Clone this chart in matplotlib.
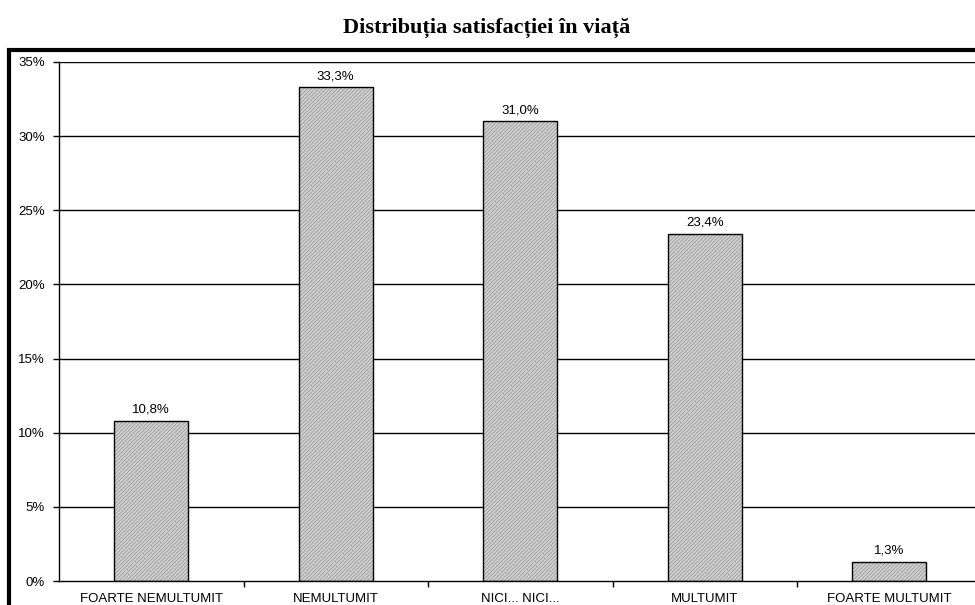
import matplotlib.pyplot as plt
from matplotlib.patches import Rectangle

categories = ["FOARTE NEMULTUMIT", "NEMULTUMIT", "NICI... NICI...", "MULTUMIT", "FOARTE MULTUMIT"]
values = [10.8, 33.3, 31.0, 23.4, 1.3]
y_ticks = [0, 5, 10, 15, 20, 25, 30, 35]

plt.rcParams["font.family"] = ["Liberation Sans", "DejaVu Sans"]
plt.rcParams["hatch.linewidth"] = 0.6

fig = plt.figure(figsize=(9.75, 6.05), dpi=100)
ax = fig.add_axes([59 / 975, 24 / 605, 922.5 / 975, 519 / 605])

# thick outer frame, runs off the right and bottom edges
fig.patches.append(Rectangle((9 / 975, -0.05), 1.2, 555 / 605 + 0.05,
                             transform=fig.transFigure, fill=False,
                             edgecolor="black", linewidth=3, clip_on=False))

x = list(range(len(categories)))
for v in y_ticks[1:]:
    ax.axhline(v, color="black", linewidth=1, zorder=1)

# hatched fill then a black outline on top
ax.bar(x, values, width=0.4, color="#d2d2d2", hatch="/////////", edgecolor="#9a9a9a",
       linewidth=0, zorder=2)
ax.bar(x, values, width=0.4, fill=False, edgecolor="black", linewidth=1, zorder=3)

for xi, v in zip(x, values):
    ax.text(xi, v + 0.35, f"{v:.1f}%".replace(".", ","), ha="center", va="bottom", fontsize=9.5)

ax.set_xlim(-0.5, len(categories) - 0.5)
ax.set_ylim(0, 35)
ax.set_yticks(y_ticks)
ax.set_yticklabels([f"{v}%" for v in y_ticks], fontsize=9.5)
ax.set_xticks([i + 0.5 for i in x[:-1]])
ax.set_xticklabels([])
ax.set_xticks(x, minor=True)
ax.set_xticklabels(categories, minor=True, fontsize=9.5)
ax.tick_params(axis="x", which="minor", length=0, pad=9)
ax.tick_params(axis="x", which="major", length=4, direction="out", width=1)
ax.tick_params(axis="y", length=4, direction="out", width=1, pad=6)

ax.spines["top"].set_visible(False)
ax.spines["right"].set_visible(False)
ax.spines["left"].set_linewidth(1)
ax.spines["bottom"].set_linewidth(1)

fig.text(487 / 975, 1 - 28 / 605, "Distribuția satisfacției în viață", ha="center", va="center",
         fontsize=16, fontweight="bold", family=["Liberation Serif", "DejaVu Serif"])

fig.savefig("out.png", dpi=100)
